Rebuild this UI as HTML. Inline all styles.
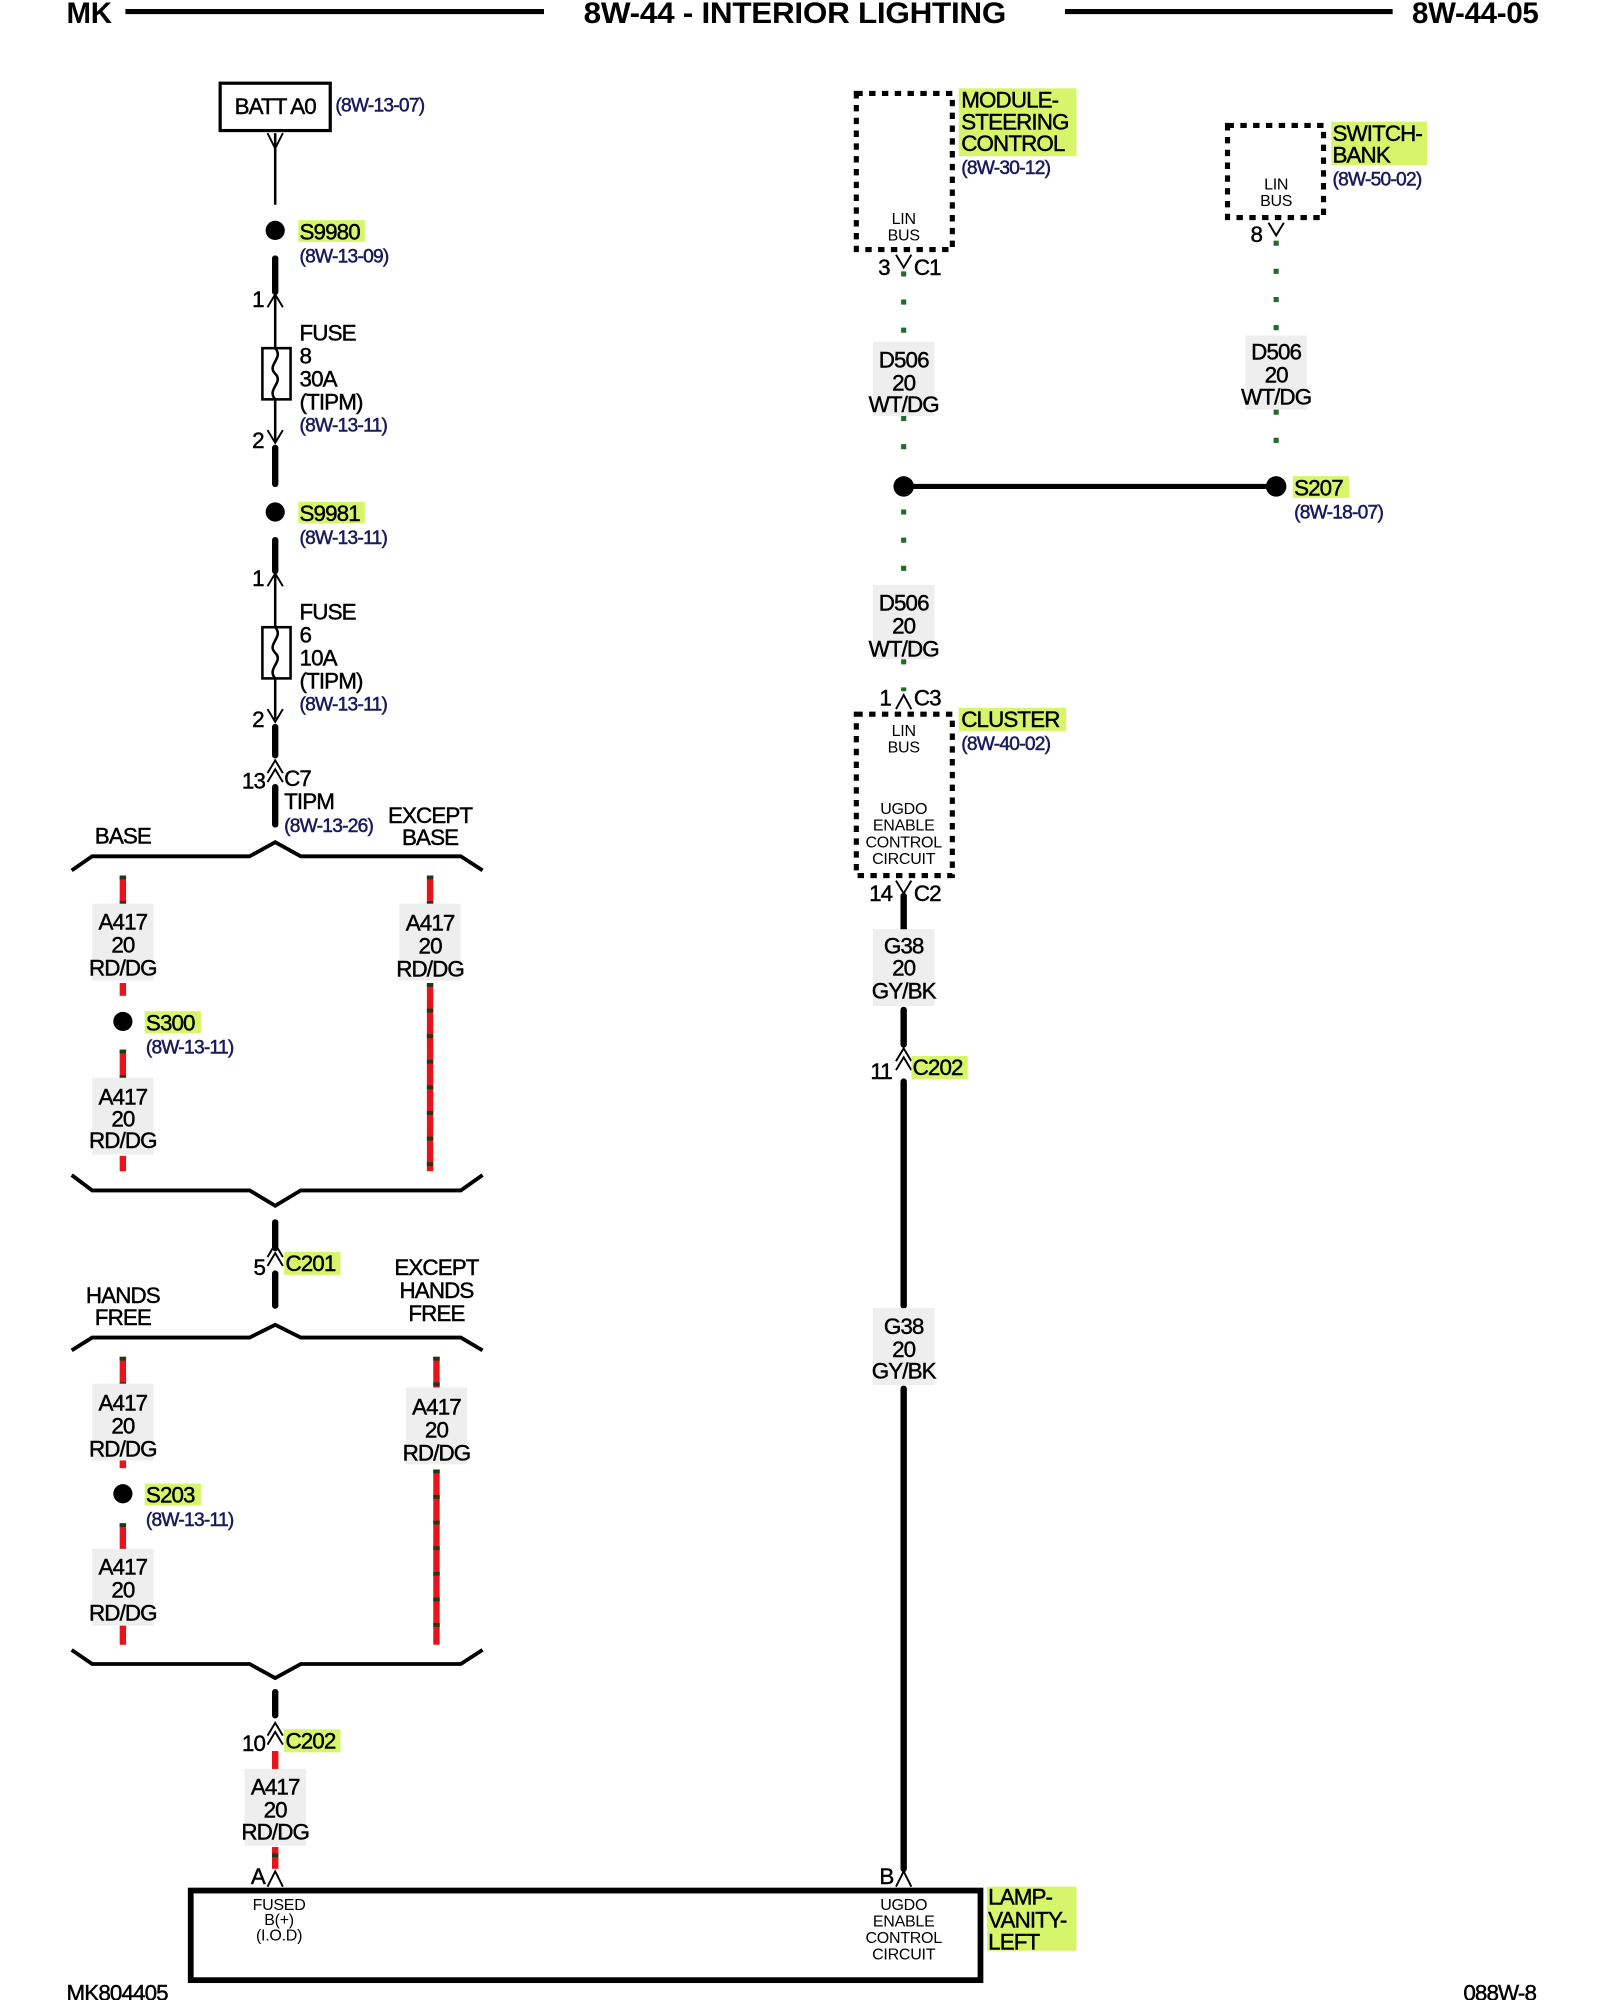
<!DOCTYPE html>
<html><head><meta charset="utf-8">
<style>
html,body{margin:0;padding:0;background:#fff;}
svg{display:block;}
text{font-family:"Liberation Sans",sans-serif;fill:#000;}
.b{font-size:17.5px;letter-spacing:-0.7px;stroke:#000;stroke-width:0.35px;}
.s{font-size:12.5px;letter-spacing:-0.2px;}
.r{font-size:15px;fill:#1a1a5a;letter-spacing:-0.6px;stroke:#1a1a5a;stroke-width:0.4px;}
.h{font-size:23px;font-weight:bold;letter-spacing:-0.2px;}
</style></head><body>
<svg width="1600" height="2000" viewBox="0 0 1250 1562.5" preserveAspectRatio="none" xmlns="http://www.w3.org/2000/svg">
<rect width="1250" height="1562.5" fill="#fff"/>
<!-- header -->
<text x="52" y="18" class="h">MK</text>
<line x1="98" y1="9" x2="425" y2="9" stroke="#000" stroke-width="4"/>
<text x="621" y="18" class="h" text-anchor="middle" textLength="330" lengthAdjust="spacingAndGlyphs">8W-44 - INTERIOR LIGHTING</text>
<line x1="832" y1="9" x2="1088" y2="9" stroke="#000" stroke-width="4"/>
<text x="1202" y="18" class="h" text-anchor="end">8W-44-05</text>

<!-- BATT -->
<rect x="172" y="65" width="86" height="37" fill="none" stroke="#000" stroke-width="2.5"/>
<text x="215" y="89" class="b" text-anchor="middle">BATT A0</text>
<text x="262" y="87" class="r">(8W-13-07)</text>
<polyline points="209,104 215,116 221,104" fill="none" stroke="#000" stroke-width="1.5"/>
<line x1="215" y1="104" x2="215" y2="160" stroke="#000" stroke-width="2"/>
<circle cx="215" cy="180" r="7.5"/>
<rect x="233" y="172" width="52" height="17" fill="#d7f56a"/>
<text x="234" y="187" class="b">S9980</text>
<text x="234" y="205" class="r">(8W-13-09)</text>
<line x1="215" y1="202" x2="215" y2="228" stroke="#000" stroke-width="5" stroke-linecap="round"/>
<text x="197" y="240" class="b">1</text>
<polyline points="209,240 215,230 221,240" fill="none" stroke="#000" stroke-width="1.5"/>
<line x1="215" y1="230" x2="215" y2="345" stroke="#000" stroke-width="2"/>
<rect x="205" y="272" width="22" height="40" fill="#fff" stroke="#000" stroke-width="2"/>
<path d="M215,272 C222,280 208,285 215,292 C222,299 208,304 215,312" fill="none" stroke="#000" stroke-width="2"/>
<text x="234" y="266" class="b">FUSE</text>
<text x="234" y="284" class="b">8</text>
<text x="234" y="302" class="b">30A</text>
<text x="234" y="320" class="b">(TIPM)</text>
<text x="234" y="337" class="r">(8W-13-11)</text>
<text x="197" y="350" class="b">2</text>
<polyline points="209,336 215,346 221,336" fill="none" stroke="#000" stroke-width="1.5"/>
<line x1="215" y1="350" x2="215" y2="378" stroke="#000" stroke-width="5" stroke-linecap="round"/>
<circle cx="215" cy="400" r="7.5"/>
<rect x="233" y="392" width="52" height="17" fill="#d7f56a"/>
<text x="234" y="407" class="b">S9981</text>
<text x="234" y="425" class="r">(8W-13-11)</text>
<line x1="215" y1="422" x2="215" y2="446" stroke="#000" stroke-width="5" stroke-linecap="round"/>
<text x="197" y="458" class="b">1</text>
<polyline points="209,458 215,448 221,458" fill="none" stroke="#000" stroke-width="1.5"/>
<line x1="215" y1="448" x2="215" y2="562" stroke="#000" stroke-width="2"/>
<rect x="205" y="490" width="22" height="40" fill="#fff" stroke="#000" stroke-width="2"/>
<path d="M215,490 C222,498 208,503 215,510 C222,517 208,522 215,530" fill="none" stroke="#000" stroke-width="2"/>
<text x="234" y="484" class="b">FUSE</text>
<text x="234" y="502" class="b">6</text>
<text x="234" y="520" class="b">10A</text>
<text x="234" y="538" class="b">(TIPM)</text>
<text x="234" y="555" class="r">(8W-13-11)</text>
<text x="197" y="568" class="b">2</text>
<polyline points="209,554 215,564 221,554" fill="none" stroke="#000" stroke-width="1.5"/>
<line x1="215" y1="568" x2="215" y2="590" stroke="#000" stroke-width="5" stroke-linecap="round"/>
<text x="189" y="616" class="b">13</text>
<polyline points="209,604 215,594 221,604" fill="none" stroke="#000" stroke-width="1.5"/>
<polyline points="209,611 215,601 221,611" fill="none" stroke="#000" stroke-width="1.5"/>
<text x="222" y="614" class="b">C7</text>
<text x="222" y="632" class="b">TIPM</text>
<text x="222" y="650" class="r">(8W-13-26)</text>
<line x1="215" y1="615" x2="215" y2="644" stroke="#000" stroke-width="5" stroke-linecap="round"/>
<text x="96" y="659" class="b" text-anchor="middle">BASE</text>
<text x="336" y="643" class="b" text-anchor="middle">EXCEPT</text>
<text x="336" y="660" class="b" text-anchor="middle">BASE</text>
<polyline points="56,680 72,669 195,669 215,658 235,669 360,669 377,680" fill="none" stroke="#000" stroke-width="3"/>

<!-- red wires -->
<g stroke-width="5">
<g stroke="#e8141c">
<line x1="96" y1="684" x2="96" y2="708"/><line x1="96" y1="768" x2="96" y2="778"/>
<line x1="96" y1="820" x2="96" y2="843"/><line x1="96" y1="903" x2="96" y2="915"/>
<line x1="336" y1="684" x2="336" y2="708"/><line x1="336" y1="768" x2="336" y2="915"/>
<line x1="96" y1="1060" x2="96" y2="1083"/><line x1="96" y1="1140" x2="96" y2="1147"/>
<line x1="96" y1="1190" x2="96" y2="1212"/><line x1="96" y1="1270" x2="96" y2="1285"/>
<line x1="341" y1="1060" x2="341" y2="1085"/><line x1="341" y1="1148" x2="341" y2="1285"/>
<line x1="215" y1="1368" x2="215" y2="1386"/><line x1="215" y1="1443" x2="215" y2="1460"/>
</g>
<g stroke="#1a3a1a" stroke-dasharray="3 17">
<line x1="96" y1="684" x2="96" y2="708"/><line x1="96" y1="820" x2="96" y2="843"/>
<line x1="336" y1="684" x2="336" y2="708"/><line x1="336" y1="768" x2="336" y2="915"/>
<line x1="96" y1="1060" x2="96" y2="1083"/><line x1="96" y1="1190" x2="96" y2="1212"/>
<line x1="341" y1="1060" x2="341" y2="1085"/><line x1="341" y1="1148" x2="341" y2="1285"/>
<line x1="215" y1="1448" x2="215" y2="1460"/>
</g>
</g>
<!-- wire labels -->
<g>
<rect x="72" y="706" width="48" height="60" fill="#eee"/>
<text x="96" y="726" class="b" text-anchor="middle">A417</text><text x="96" y="744" class="b" text-anchor="middle">20</text><text x="96" y="762" class="b" text-anchor="middle">RD/DG</text>
<rect x="312" y="706" width="48" height="60" fill="#eee"/>
<text x="336" y="727" class="b" text-anchor="middle">A417</text><text x="336" y="745" class="b" text-anchor="middle">20</text><text x="336" y="763" class="b" text-anchor="middle">RD/DG</text>
<rect x="72" y="842" width="48" height="60" fill="#eee"/>
<text x="96" y="863" class="b" text-anchor="middle">A417</text><text x="96" y="880" class="b" text-anchor="middle">20</text><text x="96" y="897" class="b" text-anchor="middle">RD/DG</text>
<rect x="72" y="1081" width="48" height="60" fill="#eee"/>
<text x="96" y="1102" class="b" text-anchor="middle">A417</text><text x="96" y="1120" class="b" text-anchor="middle">20</text><text x="96" y="1138" class="b" text-anchor="middle">RD/DG</text>
<rect x="317" y="1084" width="48" height="60" fill="#eee"/>
<text x="341" y="1105" class="b" text-anchor="middle">A417</text><text x="341" y="1123" class="b" text-anchor="middle">20</text><text x="341" y="1141" class="b" text-anchor="middle">RD/DG</text>
<rect x="72" y="1210" width="48" height="60" fill="#eee"/>
<text x="96" y="1230" class="b" text-anchor="middle">A417</text><text x="96" y="1248" class="b" text-anchor="middle">20</text><text x="96" y="1266" class="b" text-anchor="middle">RD/DG</text>
<rect x="191" y="1382" width="48" height="60" fill="#eee"/>
<text x="215" y="1402" class="b" text-anchor="middle">A417</text><text x="215" y="1420" class="b" text-anchor="middle">20</text><text x="215" y="1437" class="b" text-anchor="middle">RD/DG</text>
</g>
<circle cx="96" cy="798" r="7.5"/>
<rect x="113" y="790" width="44" height="17" fill="#d7f56a"/>
<text x="114" y="805" class="b">S300</text>
<text x="114" y="823" class="r">(8W-13-11)</text>
<circle cx="96" cy="1167" r="7.5"/>
<rect x="113" y="1159" width="44" height="17" fill="#d7f56a"/>
<text x="114" y="1174" class="b">S203</text>
<text x="114" y="1192" class="r">(8W-13-11)</text>

<polyline points="56,918 72,930 195,930 215,942 235,930 360,930 377,918" fill="none" stroke="#000" stroke-width="3"/>
<line x1="215" y1="955" x2="215" y2="975" stroke="#000" stroke-width="5" stroke-linecap="round"/>
<text x="198" y="996" class="b">5</text>
<polyline points="209,982 215,972 221,982" fill="none" stroke="#000" stroke-width="1.5"/>
<polyline points="209,989 215,979 221,989" fill="none" stroke="#000" stroke-width="1.5"/>
<rect x="222" y="978" width="44" height="18" fill="#d7f56a"/>
<text x="223" y="993" class="b">C201</text>
<line x1="215" y1="995" x2="215" y2="1020" stroke="#000" stroke-width="5" stroke-linecap="round"/>
<text x="96" y="1018" class="b" text-anchor="middle">HANDS</text>
<text x="96" y="1035" class="b" text-anchor="middle">FREE</text>
<text x="341" y="996" class="b" text-anchor="middle">EXCEPT</text>
<text x="341" y="1014" class="b" text-anchor="middle">HANDS</text>
<text x="341" y="1032" class="b" text-anchor="middle">FREE</text>
<polyline points="56,1055 72,1045 195,1045 215,1035 235,1045 360,1045 377,1055" fill="none" stroke="#000" stroke-width="3"/>
<polyline points="56,1289 72,1300 195,1300 215,1311 235,1300 360,1300 377,1289" fill="none" stroke="#000" stroke-width="3"/>
<line x1="215" y1="1322" x2="215" y2="1340" stroke="#000" stroke-width="5" stroke-linecap="round"/>
<text x="189" y="1368" class="b">10</text>
<polyline points="209,1356 215,1346 221,1356" fill="none" stroke="#000" stroke-width="1.5"/>
<polyline points="209,1363 215,1353 221,1363" fill="none" stroke="#000" stroke-width="1.5"/>
<rect x="222" y="1351" width="44" height="18" fill="#d7f56a"/>
<text x="223" y="1366" class="b">C202</text>
<text x="196" y="1472" class="b">A</text>
<polyline points="209,1474 215,1462 221,1474" fill="none" stroke="#000" stroke-width="1.5"/>

<!-- bottom box -->
<rect x="149" y="1477" width="617" height="70" fill="none" stroke="#000" stroke-width="4.5"/>
<text x="218" y="1492" class="s" text-anchor="middle">FUSED</text>
<text x="218" y="1504" class="s" text-anchor="middle">B(+)</text>
<text x="218" y="1516" class="s" text-anchor="middle">(I.O.D)</text>
<text x="706" y="1492" class="s" text-anchor="middle">UGDO</text>
<text x="706" y="1505" class="s" text-anchor="middle">ENABLE</text>
<text x="706" y="1518" class="s" text-anchor="middle">CONTROL</text>
<text x="706" y="1531" class="s" text-anchor="middle">CIRCUIT</text>
<rect x="771" y="1474" width="70" height="50" fill="#d7f56a"/>
<text x="772" y="1488" class="b">LAMP-</text>
<text x="772" y="1506" class="b">VANITY-</text>
<text x="772" y="1523" class="b">LEFT</text>
<text x="52" y="1563" class="b">MK804405</text>
<text x="1200" y="1563" class="b" text-anchor="end">088W-8</text>

<!-- right side -->
<rect x="669" y="73" width="75" height="122" fill="none" stroke="#000" stroke-width="4" stroke-dasharray="5 5"/>
<text x="706" y="175" class="s" text-anchor="middle">LIN</text>
<text x="706" y="188" class="s" text-anchor="middle">BUS</text>
<rect x="749" y="69" width="92" height="53" fill="#d7f56a"/>
<text x="751" y="84" class="b">MODULE-</text>
<text x="751" y="101" class="b">STEERING</text>
<text x="751" y="118" class="b">CONTROL</text>
<text x="751" y="136" class="r">(8W-30-12)</text>
<text x="686" y="215" class="b">3</text>
<polyline points="700,199 706,209 712,199" fill="none" stroke="#000" stroke-width="1.5"/>
<text x="714" y="215" class="b">C1</text>

<rect x="959" y="98" width="75" height="72" fill="none" stroke="#000" stroke-width="4" stroke-dasharray="5 5"/>
<text x="997" y="148" class="s" text-anchor="middle">LIN</text>
<text x="997" y="161" class="s" text-anchor="middle">BUS</text>
<rect x="1040" y="95" width="75" height="34" fill="#d7f56a"/>
<text x="1041" y="110" class="b">SWITCH-</text>
<text x="1041" y="127" class="b">BANK</text>
<text x="1041" y="145" class="r">(8W-50-02)</text>
<text x="977" y="189" class="b">8</text>
<polyline points="991,174 997,184 1003,174" fill="none" stroke="#000" stroke-width="1.5"/>

<g stroke="#1f6b2a" stroke-width="4" stroke-dasharray="4 18">
<line x1="706" y1="212" x2="706" y2="262"/>
<line x1="706" y1="325" x2="706" y2="360"/>
<line x1="706" y1="398" x2="706" y2="450"/>
<line x1="706" y1="515" x2="706" y2="540"/>
<line x1="997" y1="188" x2="997" y2="262"/>
<line x1="997" y1="320" x2="997" y2="360"/>
</g>
<rect x="682" y="267" width="48" height="58" fill="#eee"/>
<text x="706" y="287" class="b" text-anchor="middle">D506</text><text x="706" y="305" class="b" text-anchor="middle">20</text><text x="706" y="322" class="b" text-anchor="middle">WT/DG</text>
<rect x="973" y="262" width="48" height="58" fill="#eee"/>
<text x="997" y="281" class="b" text-anchor="middle">D506</text><text x="997" y="299" class="b" text-anchor="middle">20</text><text x="997" y="316" class="b" text-anchor="middle">WT/DG</text>
<rect x="682" y="457" width="48" height="58" fill="#eee"/>
<text x="706" y="477" class="b" text-anchor="middle">D506</text><text x="706" y="495" class="b" text-anchor="middle">20</text><text x="706" y="513" class="b" text-anchor="middle">WT/DG</text>
<line x1="706" y1="380" x2="997" y2="380" stroke="#000" stroke-width="4"/>
<circle cx="706" cy="380" r="8"/>
<circle cx="997" cy="380" r="8"/>
<rect x="1010" y="372" width="44" height="17" fill="#d7f56a"/>
<text x="1011" y="387" class="b">S207</text>
<text x="1011" y="405" class="r">(8W-18-07)</text>

<text x="687" y="551" class="b">1</text>
<polyline points="700,554 706,543 712,554" fill="none" stroke="#000" stroke-width="1.5"/>
<text x="714" y="551" class="b">C3</text>
<rect x="669" y="558" width="75" height="126" fill="none" stroke="#000" stroke-width="4" stroke-dasharray="5 5"/>
<text x="706" y="575" class="s" text-anchor="middle">LIN</text>
<text x="706" y="588" class="s" text-anchor="middle">BUS</text>
<text x="706" y="636" class="s" text-anchor="middle">UGDO</text>
<text x="706" y="649" class="s" text-anchor="middle">ENABLE</text>
<text x="706" y="662" class="s" text-anchor="middle">CONTROL</text>
<text x="706" y="675" class="s" text-anchor="middle">CIRCUIT</text>
<rect x="749" y="553" width="84" height="18" fill="#d7f56a"/>
<text x="751" y="568" class="b">CLUSTER</text>
<text x="751" y="586" class="r">(8W-40-02)</text>
<text x="679" y="704" class="b">14</text>
<polyline points="700,688 706,698 712,688" fill="none" stroke="#000" stroke-width="1.5"/>
<text x="714" y="704" class="b">C2</text>
<g stroke="#000" stroke-width="5" stroke-linecap="round">
<line x1="706" y1="700" x2="706" y2="726"/>
<line x1="706" y1="789" x2="706" y2="816"/>
<line x1="706" y1="845" x2="706" y2="1020"/>
<line x1="706" y1="1085" x2="706" y2="1460"/>
</g>
<rect x="682" y="726" width="48" height="60" fill="#eee"/>
<text x="706" y="745" class="b" text-anchor="middle">G38</text><text x="706" y="762" class="b" text-anchor="middle">20</text><text x="706" y="780" class="b" text-anchor="middle">GY/BK</text>
<rect x="682" y="1022" width="48" height="60" fill="#eee"/>
<text x="706" y="1042" class="b" text-anchor="middle">G38</text><text x="706" y="1060" class="b" text-anchor="middle">20</text><text x="706" y="1077" class="b" text-anchor="middle">GY/BK</text>
<text x="680" y="843" class="b">11</text>
<polyline points="700,829 706,819 712,829" fill="none" stroke="#000" stroke-width="1.5"/>
<polyline points="700,836 706,826 712,836" fill="none" stroke="#000" stroke-width="1.5"/>
<rect x="712" y="825" width="44" height="18" fill="#d7f56a"/>
<text x="713" y="840" class="b">C202</text>
<text x="687" y="1472" class="b">B</text>
<polyline points="700,1474 706,1462 712,1474" fill="none" stroke="#000" stroke-width="1.5"/>
</svg>
</body></html>
